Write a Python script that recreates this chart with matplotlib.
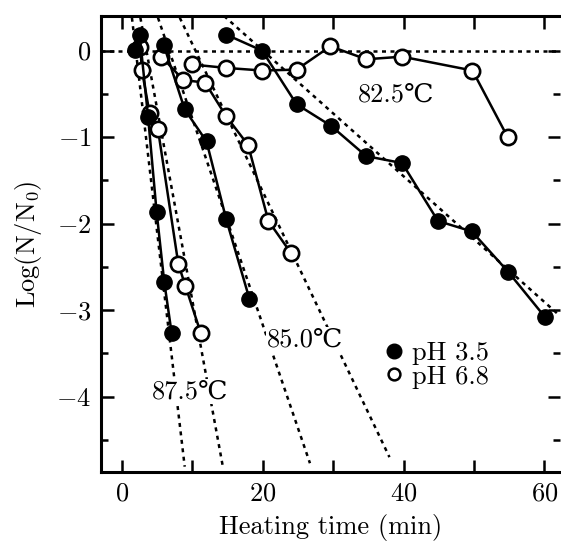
import numpy as np
import matplotlib
matplotlib.use("Agg")
import matplotlib.pyplot as plt
from matplotlib.lines import Line2D

plt.rcParams['font.family'] = ['cmr10', 'DejaVu Serif']
plt.rcParams['mathtext.fontset'] = 'cm'
plt.rcParams['axes.formatter.use_mathtext'] = True

# datos
# 87.5 C
t875_a = [1.85, 2.5, 3.7, 4.9, 6.0, 7.05]
y875_a = [0.01, 0.18, -0.77, -1.86, -2.68, -3.27]
t875_b = [2.6, 2.8, 3.9, 5.1, 8.0, 9.0, 11.2]
y875_b = [0.04, -0.22, -0.72, -0.91, -2.47, -2.72, -3.27]
# 85.0 C
t850_a = [5.9, 8.9, 12.0, 14.8, 18.1]
y850_a = [0.07, -0.68, -1.05, -1.95, -2.87]
t850_b = [5.6, 8.7, 11.8, 14.8, 17.9, 20.8, 24.0]
y850_b = [-0.07, -0.34, -0.37, -0.76, -1.09, -1.97, -2.34]
# 82.5 C
t825_a = [14.8, 19.9, 24.8, 29.7, 34.7, 39.8, 44.9, 49.7, 54.9, 60.1]
y825_a = [0.185, 0.0, -0.62, -0.87, -1.22, -1.30, -1.97, -2.09, -2.56, -3.08]
t825_b = [9.9, 14.8, 19.9, 24.8, 29.6, 34.7, 39.8, 49.8, 54.8]
y825_b = [-0.16, -0.2, -0.23, -0.22, 0.05, -0.1, -0.07, -0.23, -1.0]

# rectas ajustadas (extremos)
ajustes_x = [[1.4, 8.9], [2.6, 14.3], [5.1, 26.7], [8.2, 38.0], [14.5, 62.0], [-3, 62.3]]
ajustes_y = [[0.38, -4.81], [0.38, -4.8], [0.38, -4.77], [0.38, -4.7], [0.40, -3.05], [0.0, 0.0]]

etiquetas = ["82.5℃", "85.0℃", "87.5℃"]
etiquetas_x = [38.9, 26.0, 9.6]
etiquetas_y = [-0.51, -3.34, -3.94]

fig = plt.figure(figsize=(5.61, 5.43), dpi=100)
ax = fig.add_axes([0.18, 0.131, 0.819, 0.8395])

for xs, ys in zip(ajustes_x, ajustes_y):
    ax.plot(xs, ys, color='black', lw=1.8, dashes=(1.6, 1.8), zorder=1)

for t, y in [(t875_a, y875_a), (t850_a, y850_a), (t825_a, y825_a)]:
    ax.plot(t, y, '-o', color='black', lw=1.8, ms=11, mfc='black', mec='black', zorder=3)
for t, y in [(t875_b, y875_b), (t850_b, y850_b), (t825_b, y825_b)]:
    ax.plot(t, y, '-o', color='black', lw=1.8, ms=11, mfc='white', mec='black', mew=1.9, zorder=2)

for s, x, y in zip(etiquetas, etiquetas_x, etiquetas_y):
    ax.text(x, y, s, fontsize=19, ha='center', va='center',
            bbox=dict(facecolor='white', edgecolor='none', pad=0.5), zorder=4)

h1 = Line2D([], [], ls='none', marker='o', ms=10.5, mfc='black', mec='black')
h2 = Line2D([], [], ls='none', marker='o', ms=8.5, mfc='white', mec='black', mew=1.8)
ax.legend([h1, h2], ["pH 3.5", "pH 6.8"], loc='upper left', bbox_to_anchor=(0.62, 0.287),
          frameon=False, fontsize=19, handlelength=0.6, handletextpad=0.4,
          labelspacing=0.0, borderpad=0, borderaxespad=0)

ax.set_xlim(-3, 62.3)
ax.set_ylim(-4.87, 0.4)
ax.set_xticks([0, 20, 40, 60])
ax.set_xticks([10, 30, 50], minor=True)
ax.set_yticks([0, -1, -2, -3, -4])
ax.set_yticks([-0.5, -1.5, -2.5, -3.5, -4.5], minor=True)
ax.tick_params(direction='in', top=True, right=True, labelsize=19, width=1.8, length=9, pad=7)
ax.tick_params(which='minor', direction='in', top=True, right=True, width=1.8, length=5)
ax.tick_params(axis='x', which='minor', length=9)
for s in ax.spines.values():
    s.set_linewidth(2.2)
ax.spines['right'].set_visible(False)

ax.set_xlabel("Heating time (min)", fontsize=19, labelpad=6)
ax.set_ylabel(r"Log(N/N$_0$)", fontsize=19, labelpad=9)

fig.savefig("out.png", dpi=100)
